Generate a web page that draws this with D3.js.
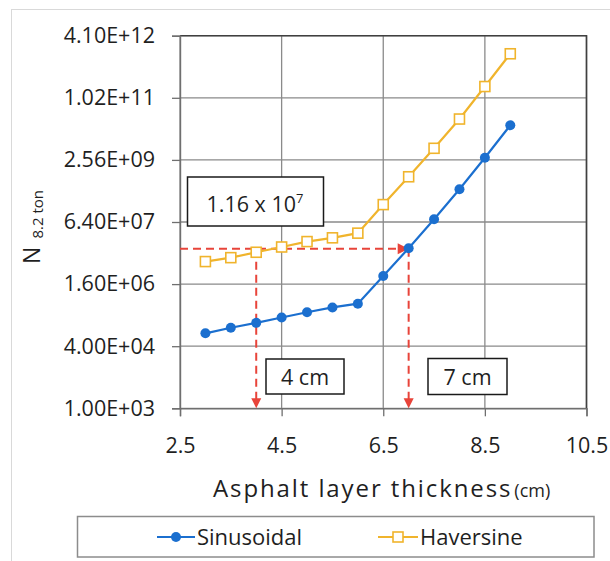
<!DOCTYPE html>
<html>
<head>
<meta charset="utf-8">
<script src="https://cdn.jsdelivr.net/npm/d3@7"></script>
<style>
    body { margin: 0; background: #fff; }
    svg { display: block; font-family: "Open Sans", "Noto Sans", sans-serif; }
</style>
</head>
<body>
<div id="chart"></div>
<script>
// thickness in cm
var thickness = [3, 3.5, 4, 4.5, 5, 5.5, 6, 6.5, 7, 7.5, 8, 8.5, 9];
var sinusoidal = [8.6e4, 1.2e5, 1.6e5, 2.2e5, 3.0e5, 4.0e5, 5.0e5, 2.6e6, 1.35e7, 7.5e7, 4.5e8, 2.9e9, 2.0e10];
var haversine = [6.1e6, 7.7e6, 1.06e7, 1.45e7, 2.0e7, 2.5e7, 3.3e7, 1.8e8, 9.4e8, 5.1e9, 2.9e10, 2.0e11, 1.4e12];

var xTicks = [2.5, 4.5, 6.5, 8.5, 10.5];
var yTicks = [1e3, 4e4, 1.6e6, 6.4e7, 2.56e9, 1.024e11, 4.096e12];
var yTickLabels = ["1.00E+03", "4.00E+04", "1.60E+06", "6.40E+07", "2.56E+09", "1.02E+11", "4.10E+12"];

var refLevel = 1.3e7;
var refThickness = [4, 7];
var seriesNames = ["Sinusoidal", "Haversine"];

(function () {
    var width = 610, height = 561;
    var left = 180, right = 586.5, top = 35.7, bottom = 408.3;
    var blue = "#1b6fcf", gold = "#f0b42c", red = "#e8443a";

    var x = d3.scaleLinear().domain([2.5, 10.5]).range([left, right]);
    var y = d3.scaleLog().base(40).domain([1e3, 4.096e12]).range([bottom, top]);

    var svg = d3.select("#chart").append("svg")
        .attr("width", width)
        .attr("height", height);

    // outer frame
    svg.append("rect")
        .attr("x", 11.5).attr("y", 9.5)
        .attr("width", 620).attr("height", 600)
        .attr("fill", "none")
        .attr("stroke", "#d9d9d9");

    // gridlines
    svg.append("g").selectAll("line.h").data(yTicks).enter().append("line")
        .attr("x1", left).attr("x2", right)
        .attr("y1", function (d) { return y(d); })
        .attr("y2", function (d) { return y(d); })
        .attr("stroke", "#8a8a8a").attr("stroke-width", 1.3);
    svg.append("g").selectAll("line.v").data(xTicks).enter().append("line")
        .attr("y1", top).attr("y2", bottom)
        .attr("x1", function (d) { return x(d); })
        .attr("x2", function (d) { return x(d); })
        .attr("stroke", "#8a8a8a").attr("stroke-width", 1.3);

    // top / right border darker
    svg.append("path")
        .attr("d", "M" + left + "," + top + "H" + right + "V" + bottom)
        .attr("fill", "none").attr("stroke", "#404040").attr("stroke-width", 1.6);

    // axes
    var yAxis = d3.axisLeft(y)
        .tickValues(yTicks)
        .tickSize(8)
        .tickPadding(17)
        .tickFormat(function (d, i) { return yTickLabels[i]; });
    var gy = svg.append("g").attr("transform", "translate(" + left + ",0)").call(yAxis);

    var xAxis = d3.axisBottom(x)
        .tickValues(xTicks)
        .tickSize(8)
        .tickPadding(21)
        .tickFormat(d3.format(".1f"));
    var gx = svg.append("g").attr("transform", "translate(0," + bottom + ")").call(xAxis);

    [gx, gy].forEach(function (g) {
        g.select(".domain").attr("stroke", "#6f6f6f").attr("stroke-width", 1.4);
        g.selectAll(".tick line").attr("stroke", "#6f6f6f").attr("stroke-width", 1.3);
        g.selectAll(".tick text")
            .attr("fill", "#1f1f1f")
            .attr("font-size", "21.5px")
            .attr("font-family", "'Open Sans', sans-serif");
    });

    // reference lines (dashed red)
    var yr = y(refLevel);
    var ann = svg.append("g");
    ann.append("line")
        .attr("x1", left).attr("x2", x(refThickness[1]) - 10)
        .attr("y1", yr).attr("y2", yr)
        .attr("stroke", red).attr("stroke-width", 2)
        .attr("stroke-dasharray", "8,5");
    ann.append("path")
        .attr("d", "M" + (x(refThickness[1]) - 11) + "," + (yr - 5.5) +
            "L" + x(refThickness[1]) + "," + yr +
            "L" + (x(refThickness[1]) - 11) + "," + (yr + 5.5) + "Z")
        .attr("fill", red);
    refThickness.forEach(function (t) {
        ann.append("line")
            .attr("x1", x(t)).attr("x2", x(t))
            .attr("y1", yr).attr("y2", bottom - 9)
            .attr("stroke", red).attr("stroke-width", 2)
            .attr("stroke-dasharray", "8,5");
        ann.append("path")
            .attr("d", "M" + (x(t) - 5) + "," + (bottom - 10) +
                "L" + x(t) + "," + bottom +
                "L" + (x(t) + 5) + "," + (bottom - 10) + "Z")
            .attr("fill", red);
    });

    // series
    var line = d3.line()
        .x(function (d) { return x(d[0]); })
        .y(function (d) { return y(d[1]); });

    var sinData = d3.zip(thickness, sinusoidal);
    var havData = d3.zip(thickness, haversine);

    svg.append("path").datum(havData)
        .attr("d", line).attr("fill", "none")
        .attr("stroke", gold).attr("stroke-width", 2.2);
    svg.append("g").selectAll("rect").data(havData).enter().append("rect")
        .attr("x", function (d) { return x(d[0]) - 5; })
        .attr("y", function (d) { return y(d[1]) - 5; })
        .attr("width", 10).attr("height", 10)
        .attr("fill", "#fff").attr("stroke", gold).attr("stroke-width", 1.6);

    svg.append("path").datum(sinData)
        .attr("d", line).attr("fill", "none")
        .attr("stroke", blue).attr("stroke-width", 2.2);
    svg.append("g").selectAll("circle").data(sinData).enter().append("circle")
        .attr("cx", function (d) { return x(d[0]); })
        .attr("cy", function (d) { return y(d[1]); })
        .attr("r", 5)
        .attr("fill", blue);

    // annotation boxes
    function box(x0, y0, w, h) {
        svg.append("rect")
            .attr("x", x0).attr("y", y0).attr("width", w).attr("height", h)
            .attr("fill", "#fff").attr("stroke", "#1a1a1a").attr("stroke-width", 1.5);
    }
    box(187.5, 177, 136, 49);
    var t1 = svg.append("text").attr("x", 255).attr("y", 211.5)
        .attr("text-anchor", "middle").attr("font-size", "21.5px").attr("fill", "#1f1f1f");
    t1.append("tspan").text("1.16 x 10");
    t1.append("tspan").attr("font-size", "13px").attr("dy", -9).text("7");

    box(266, 359, 78, 35);
    svg.append("text").attr("x", 305).attr("y", 385)
        .attr("text-anchor", "middle").attr("font-size", "21.5px").attr("fill", "#1f1f1f")
        .text(refThickness[0] + " cm");
    box(428, 358.5, 79, 36);
    svg.append("text").attr("x", 467.5).attr("y", 385)
        .attr("text-anchor", "middle").attr("font-size", "21.5px").attr("fill", "#1f1f1f")
        .text(refThickness[1] + " cm");

    // axis titles
    var xt = svg.append("text").attr("x", 213).attr("y", 497)
        .attr("fill", "#1f1f1f").attr("font-size", "24px");
    xt.append("tspan").attr("letter-spacing", "1.9px").text("Asphalt layer thickness");
    xt.append("tspan").attr("font-size", "18px").attr("dx", 2).text("(cm)");

    var yt = svg.append("text")
        .attr("transform", "translate(40,227) rotate(-90)")
        .attr("text-anchor", "middle").attr("fill", "#1f1f1f");
    yt.append("tspan").attr("font-size", "23px").text("N");
    yt.append("tspan").attr("font-size", "15px").attr("dx", 8).attr("dy", 3).text("8.2 ton");

    // legend
    var lg = svg.append("g");
    lg.append("rect")
        .attr("x", 77.5).attr("y", 516.5).attr("width", 516.5).attr("height", 40.5)
        .attr("fill", "#fff").attr("stroke", "#8c8c8c").attr("stroke-width", 1.5);
    var items = [
        { name: seriesNames[0], color: blue, x0: 157, tx: 197 },
        { name: seriesNames[1], color: gold, x0: 378, tx: 420 }
    ];
    items.forEach(function (it, i) {
        lg.append("line")
            .attr("x1", it.x0).attr("x2", it.tx - 2)
            .attr("y1", 537).attr("y2", 537)
            .attr("stroke", it.color).attr("stroke-width", 2.2);
        var cx = (it.x0 + it.tx - 2) / 2;
        if (i === 0) {
            lg.append("circle").attr("cx", cx).attr("cy", 537).attr("r", 5).attr("fill", it.color);
        } else {
            lg.append("rect").attr("x", cx - 5).attr("y", 532).attr("width", 10).attr("height", 10)
                .attr("fill", "#fff").attr("stroke", it.color).attr("stroke-width", 1.6);
        }
        lg.append("text").attr("x", it.tx).attr("y", 545)
            .attr("font-size", "22px").attr("fill", "#1f1f1f").text(it.name);
    });
}());
</script>
</body>
</html>
